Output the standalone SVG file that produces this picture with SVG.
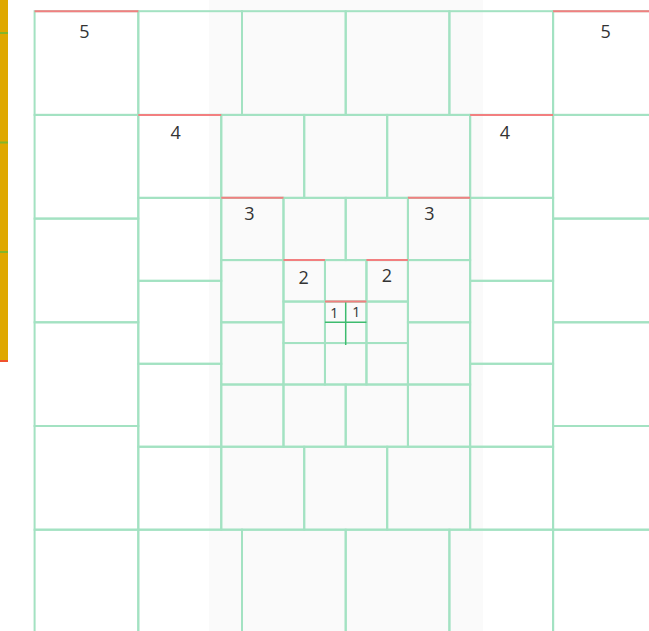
<svg xmlns="http://www.w3.org/2000/svg" width="649" height="631" viewBox="0 0 649 631">
<style>
.c{fill:none;stroke:#a3e2c2;stroke-width:2}
.r{stroke:#f27f80;stroke-width:2}
.d{stroke:#3dbb6e;stroke-width:1.5}
.t{font-family:"Open Sans","Noto Sans",sans-serif;font-size:18px;fill:#333;text-anchor:middle}
.s{font-size:14px}
</style>
<rect width="649" height="631" fill="#ffffff"/>
<rect x="209" y="0" width="274" height="631" fill="#fafafa"/>
<g id="sidebar">
<rect x="0" y="0" width="8" height="362" fill="#dfa800"/>
<rect x="0" y="32" width="8" height="2" fill="#84b52a"/>
<rect x="0" y="141.5" width="8" height="2" fill="#84b52a"/>
<rect x="0" y="251" width="8" height="2" fill="#84b52a"/>
<rect x="0" y="360" width="8" height="2" fill="#f0522e"/>
</g>
<g id="ring5">
<rect class="c" x="34.6" y="11.2" width="103.7" height="103.7"/>
<rect class="c" x="138.3" y="11.2" width="103.7" height="103.7"/>
<rect class="c" x="242" y="11.2" width="103.7" height="103.7"/>
<rect class="c" x="345.7" y="11.2" width="103.7" height="103.7"/>
<rect class="c" x="449.4" y="11.2" width="103.7" height="103.7"/>
<rect class="c" x="553.1" y="11.2" width="103.7" height="103.7"/>
<rect class="c" x="34.6" y="114.9" width="103.7" height="103.7"/>
<rect class="c" x="34.6" y="218.6" width="103.7" height="103.7"/>
<rect class="c" x="34.6" y="322.3" width="103.7" height="103.7"/>
<rect class="c" x="34.6" y="426" width="103.7" height="103.7"/>
<rect class="c" x="553.1" y="114.9" width="103.7" height="103.7"/>
<rect class="c" x="553.1" y="218.6" width="103.7" height="103.7"/>
<rect class="c" x="553.1" y="322.3" width="103.7" height="103.7"/>
<rect class="c" x="553.1" y="426" width="103.7" height="103.7"/>
<rect class="c" x="34.6" y="529.7" width="103.7" height="103.7"/>
<rect class="c" x="138.3" y="529.7" width="103.7" height="103.7"/>
<rect class="c" x="242" y="529.7" width="103.7" height="103.7"/>
<rect class="c" x="345.7" y="529.7" width="103.7" height="103.7"/>
<rect class="c" x="449.4" y="529.7" width="103.7" height="103.7"/>
<rect class="c" x="553.1" y="529.7" width="103.7" height="103.7"/>
</g>
<g id="ring4">
<rect class="c" x="138.3" y="114.9" width="82.96" height="82.96"/>
<rect class="c" x="221.26" y="114.9" width="82.96" height="82.96"/>
<rect class="c" x="304.22" y="114.9" width="82.96" height="82.96"/>
<rect class="c" x="387.18" y="114.9" width="82.96" height="82.96"/>
<rect class="c" x="470.14" y="114.9" width="82.96" height="82.96"/>
<rect class="c" x="138.3" y="197.86" width="82.96" height="82.96"/>
<rect class="c" x="138.3" y="280.82" width="82.96" height="82.96"/>
<rect class="c" x="138.3" y="363.78" width="82.96" height="82.96"/>
<rect class="c" x="470.14" y="197.86" width="82.96" height="82.96"/>
<rect class="c" x="470.14" y="280.82" width="82.96" height="82.96"/>
<rect class="c" x="470.14" y="363.78" width="82.96" height="82.96"/>
<rect class="c" x="138.3" y="446.74" width="82.96" height="82.96"/>
<rect class="c" x="221.26" y="446.74" width="82.96" height="82.96"/>
<rect class="c" x="304.22" y="446.74" width="82.96" height="82.96"/>
<rect class="c" x="387.18" y="446.74" width="82.96" height="82.96"/>
<rect class="c" x="470.14" y="446.74" width="82.96" height="82.96"/>
</g>
<g id="ring3">
<rect class="c" x="221.26" y="197.86" width="62.22" height="62.22"/>
<rect class="c" x="283.48" y="197.86" width="62.22" height="62.22"/>
<rect class="c" x="345.7" y="197.86" width="62.22" height="62.22"/>
<rect class="c" x="407.92" y="197.86" width="62.22" height="62.22"/>
<rect class="c" x="221.26" y="260.08" width="62.22" height="62.22"/>
<rect class="c" x="221.26" y="322.3" width="62.22" height="62.22"/>
<rect class="c" x="407.92" y="260.08" width="62.22" height="62.22"/>
<rect class="c" x="407.92" y="322.3" width="62.22" height="62.22"/>
<rect class="c" x="221.26" y="384.52" width="62.22" height="62.22"/>
<rect class="c" x="283.48" y="384.52" width="62.22" height="62.22"/>
<rect class="c" x="345.7" y="384.52" width="62.22" height="62.22"/>
<rect class="c" x="407.92" y="384.52" width="62.22" height="62.22"/>
</g>
<g id="ring2">
<rect class="c" x="283.48" y="260.08" width="41.48" height="41.48"/>
<rect class="c" x="324.96" y="260.08" width="41.48" height="41.48"/>
<rect class="c" x="366.44" y="260.08" width="41.48" height="41.48"/>
<rect class="c" x="283.48" y="301.56" width="41.48" height="41.48"/>
<rect class="c" x="366.44" y="301.56" width="41.48" height="41.48"/>
<rect class="c" x="283.48" y="343.04" width="41.48" height="41.48"/>
<rect class="c" x="324.96" y="343.04" width="41.48" height="41.48"/>
<rect class="c" x="366.44" y="343.04" width="41.48" height="41.48"/>
</g>
<g id="ring1">
<rect class="c" x="324.96" y="301.56" width="41.48" height="41.48"/>
<line class="d" x1="345.7" y1="301.56" x2="345.7" y2="345"/>
<line class="d" x1="324.96" y1="322.3" x2="366.44" y2="322.3"/>
</g>
<g id="highlights">
<line class="r" x1="34.6" y1="11.2" x2="138.3" y2="11.2"/>
<line class="r" x1="553.1" y1="11.2" x2="656.8" y2="11.2"/>
<line class="r" x1="138.3" y1="114.9" x2="221.26" y2="114.9"/>
<line class="r" x1="470.14" y1="114.9" x2="553.1" y2="114.9"/>
<line class="r" x1="221.26" y1="197.86" x2="283.48" y2="197.86"/>
<line class="r" x1="407.92" y1="197.86" x2="470.14" y2="197.86"/>
<line class="r" x1="283.48" y1="260.08" x2="324.96" y2="260.08"/>
<line class="r" x1="366.44" y1="260.08" x2="407.92" y2="260.08"/>
<line class="r" x1="324.96" y1="301.56" x2="366.44" y2="301.56"/>
</g>
<g id="labels">
<text class="t" x="84.3" y="37.5">5</text>
<text class="t" x="605.7" y="37.5">5</text>
<text class="t" x="175.7" y="139">4</text>
<text class="t" x="505" y="139">4</text>
<text class="t" x="249.3" y="220">3</text>
<text class="t" x="429.3" y="220">3</text>
<text class="t" x="303.7" y="283.5">2</text>
<text class="t" x="387" y="281.5">2</text>
<text class="t s" x="334.3" y="318">1</text>
<text class="t s" x="356.3" y="317">1</text>
</g>
</svg>
